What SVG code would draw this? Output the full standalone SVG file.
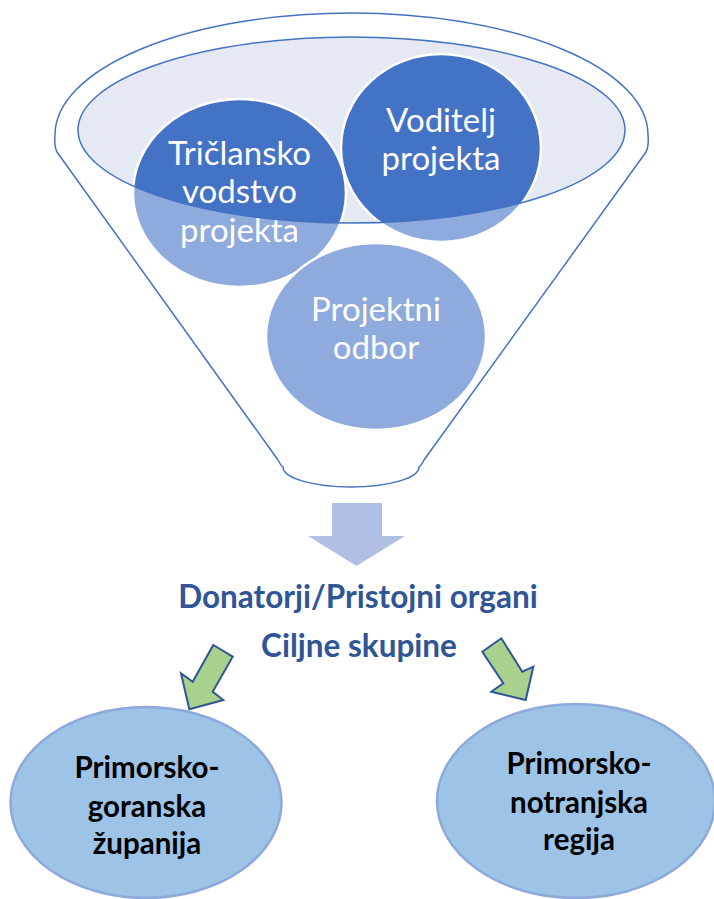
<svg xmlns="http://www.w3.org/2000/svg" width="714" height="899" viewBox="0 0 714 899">
  <defs>
    <clipPath id="inner">
      <ellipse cx="351.5" cy="130" rx="273.5" ry="93"/>
    </clipPath>
  </defs>
  <style>
    .funnel { fill: #ffffff; stroke: #4472C4; stroke-width: 1.5; }
    .innerEl { fill: #E4E9F4; stroke: none; }
    .innerLine { fill: none; stroke: #4472C4; stroke-width: 1.5; }
    .light { fill: #8FAADC; }
    .dark { fill: #4472C4; }
    .ring { fill: none; stroke: #ffffff; stroke-width: 2.5; }
    .wt { font-family: Lato, "Open Sans", sans-serif; font-size: 33px; fill: #ffffff; text-anchor: middle; }
    .hd { font-family: Lato, "Open Sans", sans-serif; font-size: 31.5px; font-weight: bold; fill: #2F5597; text-anchor: middle; }
    .reg { fill: #9DC3E6; stroke: #8EA9DB; stroke-width: 2.5; }
    .bt { font-family: Lato, "Open Sans", sans-serif; font-size: 29.5px; font-weight: bold; fill: #000000; text-anchor: middle; }
    .down { fill: #B0BFE3; }
    .green { fill: #A9D18E; stroke: #2F5597; stroke-width: 2; stroke-linejoin: miter; }
  </style>
  <rect width="714" height="899" fill="#ffffff"/>

  <g id="funnel">
    <path class="funnel" d="M 57,152 Q 54,146 55,135 A 296.5 122 0 0 1 648,135 Q 649,146 646,152 L 424,460 Q 421,466 419,467 A 68 20 0 0 1 283,467 Q 281,466 278,460 Z"/>
    <ellipse class="innerEl" cx="351.5" cy="130" rx="273.5" ry="93"/>
  </g>

  <g id="node-triclansko">
    <ellipse class="light" cx="239.5" cy="193" rx="106.5" ry="94"/>
    <ellipse class="dark" cx="239.5" cy="193" rx="106.5" ry="94" clip-path="url(#inner)"/>
    <ellipse class="ring" cx="239.5" cy="193" rx="106.5" ry="94"/>
    <text class="wt" x="239.5" y="165">Tričlansko</text>
    <text class="wt" x="239.5" y="203">vodstvo</text>
    <text class="wt" x="239.5" y="242">projekta</text>
  </g>

  <g id="node-voditelj">
    <ellipse class="light" cx="441" cy="148" rx="100" ry="94"/>
    <ellipse class="dark" cx="441" cy="148" rx="100" ry="94" clip-path="url(#inner)"/>
    <ellipse class="ring" cx="441" cy="148" rx="100" ry="94"/>
    <text class="wt" x="441" y="132">Voditelj</text>
    <text class="wt" x="441" y="170">projekta</text>
  </g>

  <g id="inner-outline">
    <ellipse class="innerLine" cx="351.5" cy="130" rx="273.5" ry="93"/>
  </g>

  <g id="node-odbor">
    <ellipse class="light" cx="376" cy="336.5" rx="110" ry="93.5"/>
    <ellipse class="ring" cx="376" cy="336.5" rx="110" ry="93.5"/>
    <text class="wt" x="376" y="321">Projektni</text>
    <text class="wt" x="376" y="359">odbor</text>
  </g>

  <g id="connectors">
    <polygon class="down" points="332,503 382,503 382,536 405,536 356.5,566 308,536 332,536"/>
    <polygon class="green" points="213.3,645 232.7,656.7 212.7,691.7 223.3,700 189.3,709.3 181,673.3 192.7,681.7"/>
    <polygon class="green" points="482.3,651.7 501.3,638.3 522.3,671.7 533.3,666.7 525.7,700 491.3,691.7 503.3,683.3"/>
  </g>

  <g id="node-donatorji">
    <text class="hd" x="358" y="608">Donatorji/Pristojni organi</text>
  </g>
  <g id="node-ciljne">
    <text class="hd" x="359" y="657">Ciljne skupine</text>
  </g>

  <g id="node-pgz">
    <ellipse class="reg" cx="146" cy="802.5" rx="135.5" ry="95.5"/>
    <text class="bt" x="147" y="778">Primorsko-</text>
    <text class="bt" x="147" y="816.5">goranska</text>
    <text class="bt" x="147" y="854">županija</text>
  </g>

  <g id="node-pnr">
    <ellipse class="reg" cx="576" cy="801" rx="139" ry="97"/>
    <text class="bt" x="579" y="774">Primorsko-</text>
    <text class="bt" x="579" y="813">notranjska</text>
    <text class="bt" x="579" y="850">regija</text>
  </g>
</svg>
